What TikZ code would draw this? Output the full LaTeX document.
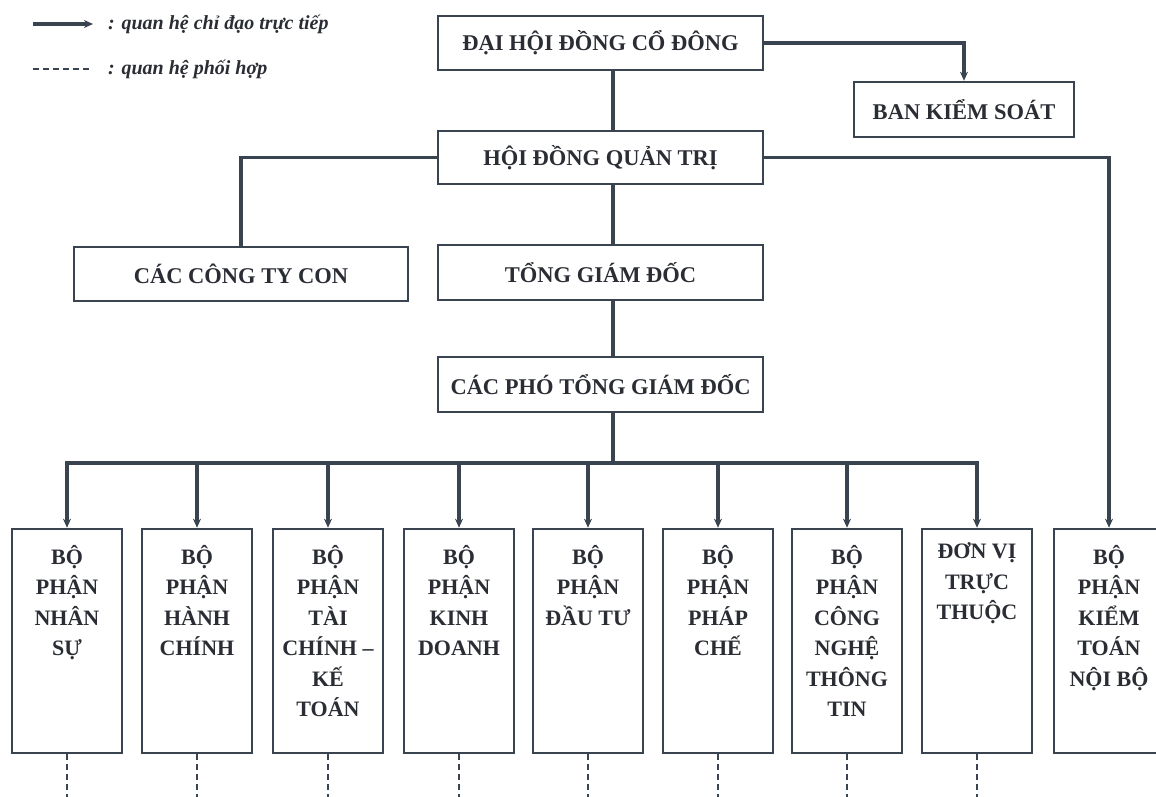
\documentclass[tikz,border=0pt]{standalone}
\usepackage{fontspec}
\setmainfont{Liberation Serif}
\usetikzlibrary{arrows.meta,calc}
\definecolor{linec}{HTML}{3A4350}
\definecolor{textc}{HTML}{2A2D33}
\tikzset{
  box/.style={draw=linec, line width=2.6pt, fill=white, inner sep=0pt, text=textc,
    font=\bfseries\fontsize{22.5}{26}\selectfont},
  dept/.style={draw=linec, line width=2.6pt, minimum width=110pt, minimum height=224pt, inner sep=0pt},
  depttext/.style={anchor=north, align=center, inner sep=0pt, text=textc,
    font=\bfseries\fontsize{22}{30.5}\selectfont},
  conn/.style={draw=linec, line width=3.2pt},
  tip/.tip={Stealth[length=9pt,width=8pt]},
  arr/.style={conn, -tip},
  coop/.style={draw=linec, line width=2.6pt, dash pattern=on 6pt off 4pt},
  legtext/.style={anchor=west, inner sep=0pt, text=textc,
    font=\bfseries\itshape\fontsize{20}{24}\selectfont},
}
\begin{document}
\begin{tikzpicture}[x=1pt,y=-1pt]
\useasboundingbox[fill=white] (0,0) rectangle (1156,796);
% legend
\coordinate (la) at (33,24);
\coordinate (lb) at (93,24);
\coordinate (lc) at (33,69);
\coordinate (ld) at (90,69);
\node[legtext] (leg1) at (108,24) {: quan hệ chỉ đạo trực tiếp};
\node[legtext] (leg2) at (108,69) {: quan hệ phối hợp};
\draw[arr] (la) -- (lb);
\draw[coop] (lc) -- (ld);
% top boxes
\node[box, minimum width=325pt, minimum height=54pt] (dhdcd) at (600.5,43) {ĐẠI HỘI ĐỒNG CỔ ĐÔNG};
\node[box, minimum width=220pt, minimum height=55pt] (bks) at (964,109.5) {BAN KIỂM SOÁT};
\node[box, minimum width=325pt, minimum height=53pt] (hdqt) at (600.5,157.5) {HỘI ĐỒNG QUẢN TRỊ};
\node[box, minimum width=334pt, minimum height=54pt] (cty) at (241,274) {CÁC CÔNG TY CON};
\node[box, minimum width=325pt, minimum height=55pt] (tgd) at (600.5,272.5) {TỔNG GIÁM ĐỐC};
\node[box, minimum width=325pt, minimum height=55pt] (pho) at (600.5,384.5) {CÁC PHÓ TỔNG GIÁM ĐỐC};
% departments
\node[dept] (b1) at (67,641) {};
\node[dept] (b2) at (197,641) {};
\node[dept] (b3) at (328,641) {};
\node[dept] (b4) at (459,641) {};
\node[dept] (b5) at (588,641) {};
\node[dept] (b6) at (718,641) {};
\node[dept] (b7) at (847,641) {};
\node[dept] (b8) at (977,641) {};
\node[dept] (b9) at (1109,641) {};
\node[depttext] (t1) at ($(b1.north)+(0,17)$) {BỘ\\PHẬN\\NHÂN\\SỰ};
\node[depttext] (t2) at ($(b2.north)+(0,17)$) {BỘ\\PHẬN\\HÀNH\\CHÍNH};
\node[depttext] (t3) at ($(b3.north)+(0,17)$) {BỘ\\PHẬN\\TÀI\\CHÍNH –\\KẾ\\TOÁN};
\node[depttext] (t4) at ($(b4.north)+(0,17)$) {BỘ\\PHẬN\\KINH\\DOANH};
\node[depttext] (t5) at ($(b5.north)+(0,17)$) {BỘ\\PHẬN\\ĐẦU TƯ};
\node[depttext] (t6) at ($(b6.north)+(0,17)$) {BỘ\\PHẬN\\PHÁP\\CHẾ};
\node[depttext] (t7) at ($(b7.north)+(0,17)$) {BỘ\\PHẬN\\CÔNG\\NGHỆ\\THÔNG\\TIN};
\node[depttext] (t8) at ($(b8.north)+(0,15)$) {ĐƠN VỊ\\TRỰC\\THUỘC};
\node[depttext] (t9) at ($(b9.north)+(0,17)$) {BỘ\\PHẬN\\KIỂM\\TOÁN\\NỘI BỘ};
% connectors
\coordinate (spine) at (613,0);
\coordinate (bus) at (0,463);
\coordinate (bottom) at (0,800);
\draw[conn] (dhdcd.south -| spine) -- (hdqt.north -| spine);
\draw[arr] (dhdcd.east) -| (bks.north);
\draw[conn] (hdqt.west) -| (cty.north);
\draw[conn] (hdqt.south -| spine) -- (tgd.north -| spine);
\draw[conn] (tgd.south -| spine) -- (pho.north -| spine);
\draw[conn] (pho.south -| spine) -- (bus -| spine);
\draw[arr] (hdqt.east) -| (b9.north);
\draw[conn, tip-tip]
  (b1.north) -- (b1.north |- bus) -- (b8.north |- bus) -- (b8.north);
\foreach \b in {b2,b3,b4,b5,b6,b7}{
  \draw[arr] (\b.north |- bus) -- (\b.north);
}
\foreach \b in {b1,b2,b3,b4,b5,b6,b7,b8}{
  \draw[coop] (\b.south) -- (\b.south |- bottom);
}
\end{tikzpicture}
\end{document}
